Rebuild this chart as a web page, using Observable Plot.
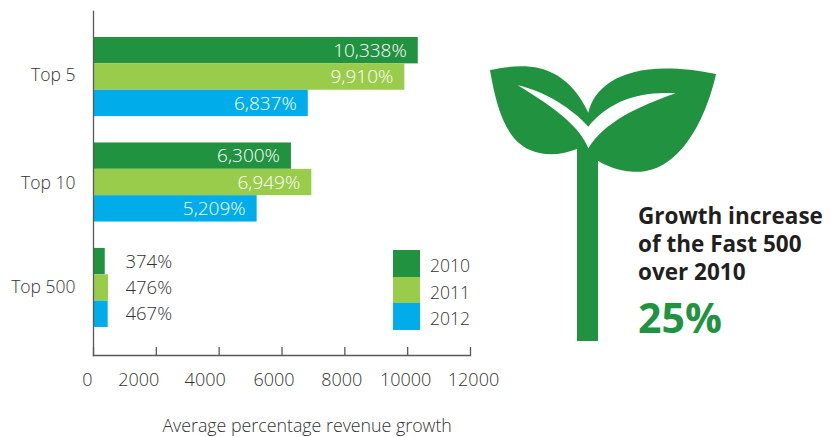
<!DOCTYPE html>
<html>
<head>
<meta charset="utf-8">
<script src="https://cdn.jsdelivr.net/npm/d3@7"></script>
<script src="https://cdn.jsdelivr.net/npm/@observablehq/plot@0.6"></script>
<style>
html,body{margin:0;padding:0;background:#fff;overflow:hidden}
#wrap{position:relative;width:835px;height:437px;font-family:"Open Sans",sans-serif;color:#333335}
#wrap svg{display:block}
.abs{position:absolute;white-space:nowrap}
.sw{position:absolute;left:393px;width:27px}
.lg{position:absolute;left:430px;font-size:17.5px;line-height:20px;font-weight:300}
</style>
</head>
<body>
<div id="wrap"></div>
<script>
const groups = ["Top 5", "Top 10", "Top 500"];
const years = ["2010", "2011", "2012"];
const colors = ["#21923f", "#99cc4a", "#00adea"];
const top5 = [10338, 9910, 6837];
const top10 = [6300, 6949, 5209];
const top500 = [374, 476, 467];
const xTicks = [0, 2000, 4000, 6000, 8000, 10000, 12000];
const xTitle = "Average percentage revenue growth";
const calloutLines = ["Growth increase", "of the Fast 500", "over 2010"];
const calloutValue = "25%";

const series = [top5, top10, top500];
const rows = groups.flatMap((g, i) => years.map((yr, j) => ({
  group: g, year: yr, value: series[i][j], slot: `${g}|${yr}`
})));
// Band slots: one empty slot separates and surrounds the three groups of bars
const slots = ["gap0", ...groups.flatMap((g, i) => [...years.map(yr => `${g}|${yr}`), `gap${i + 1}`])];
const fmt = d3.format(",");
const inside = rows.filter(d => d.group !== "Top 500");
const outside = rows.filter(d => d.group === "Top 500");
const labelShift = [-6, -17.6, -14, -8, -3, -2, 3];
const groupShift = [-2, 1, -1];
const textCol = "#333335";
const axisCol = "#58595b";

const chart = Plot.plot({
  width: 835, height: 437,
  marginLeft: 93, marginRight: 365, marginTop: 11, marginBottom: 82,
  style: {fontFamily: '"Open Sans",sans-serif', fontWeight: 300, background: "transparent", overflow: "visible"},
  x: {domain: [0, 12000], axis: null},
  y: {type: "band", domain: slots, range: [10.64, 353.36], padding: 0, round: false, axis: null},
  color: {domain: years, range: colors},
  marks: [
    Plot.barX(rows, {x: "value", y: "slot", fill: "year", inset: 0}),
    Plot.text(inside, {x: "value", y: "slot", text: d => fmt(d.value) + "%", textAnchor: "end", dx: -11.5, fill: "#fff", fontSize: 19}),
    Plot.text(outside, {frameAnchor: "left", y: "slot", text: d => fmt(d.value) + "%", textAnchor: "start", dx: 32, fill: textCol, fontSize: 18.5}),
    ...groups.map((g, i) => Plot.text([g], {frameAnchor: "left", y: d => `${d}|2011`, text: d => d, textAnchor: "end", dx: -18, dy: groupShift[i], fontSize: 17.5, fill: textCol})),
    Plot.frame({anchor: "left", stroke: axisCol, strokeWidth: 1.3}),
    Plot.frame({anchor: "bottom", stroke: axisCol, strokeWidth: 1.3}),
    Plot.axisX({ticks: xTicks, tickSize: -8, tickFormat: () => "", label: null, stroke: axisCol, strokeWidth: 1.3}),
    ...xTicks.map((t, i) => Plot.text([t], {x: d => d, frameAnchor: "bottom", dy: 25, dx: labelShift[i], text: d => String(d), fontSize: 18, fill: textCol, lineAnchor: "middle"})),
    Plot.text([xTitle], {x: 6800, frameAnchor: "bottom", dy: 70.5, text: d => d, fontSize: 17.8, fill: textCol, lineAnchor: "middle"})
  ]
});
const wrap = document.getElementById("wrap");
wrap.appendChild(chart);

// Legend
const swTops = [250, 277, 303], swH = [27, 26, 27], lgTops = [255, 282, 308];
years.forEach((yr, i) => {
  const s = document.createElement("div"); s.className = "sw";
  s.style.cssText += `top:${swTops[i]}px;height:${swH[i]}px;background:${colors[i]}`;
  wrap.appendChild(s);
  const t = document.createElement("div"); t.className = "lg";
  t.style.top = lgTops[i] + "px"; t.textContent = yr;
  wrap.appendChild(t);
});

// Seedling illustration
const ns = "http://www.w3.org/2000/svg";
const ill = document.createElementNS(ns, "svg");
ill.setAttribute("viewBox", "0 0 750 900");
ill.setAttribute("width", 250); ill.setAttribute("height", 300);
ill.style.cssText = "position:absolute;left:480px;top:50px";
ill.innerHTML = `<path fill="${colors[0]}" d="M30 60C130 40 250 30 325 188C345 100 450 20 708 72C680 200 600 375 460 365C410 362 375 345 354 332V873H291V297C240 315 200 320 150 300C80 270 50 180 30 60Z"/>
<path fill="#fff" d="M113 106C200 125 280 180 325 230C380 160 470 122 587 130C470 170 370 220 325 295C300 230 220 170 113 106Z"/>`;
wrap.appendChild(ill);

// Callout
calloutLines.forEach((l, i) => {
  const d = document.createElement("div"); d.className = "abs";
  d.style.cssText += `left:638px;top:${201 + i * 28}px;font-size:22.5px;line-height:30px;font-weight:700;color:#231f20`;
  d.textContent = l; wrap.appendChild(d);
});
const v = document.createElement("div"); v.className = "abs";
v.style.cssText += `left:638px;top:290px;font-size:41px;line-height:54px;font-weight:700;color:${colors[0]}`;
v.textContent = calloutValue; wrap.appendChild(v);
</script>
</body>
</html>
